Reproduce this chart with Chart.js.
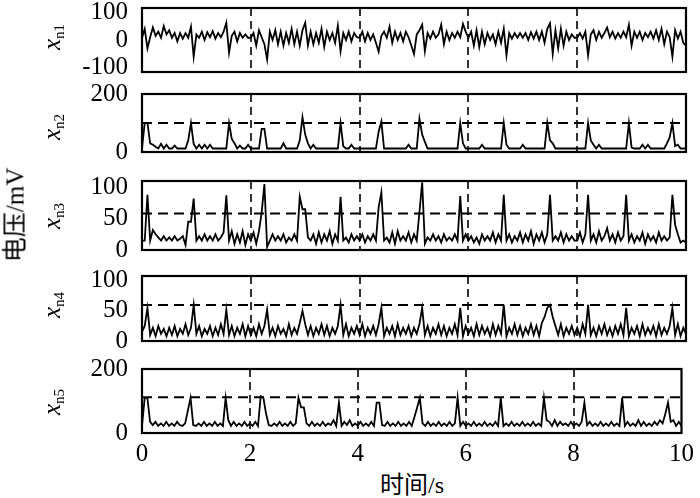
<!DOCTYPE html>
<html><head><meta charset="utf-8">
<script src="https://cdn.jsdelivr.net/npm/chart.js@4.4.0/dist/chart.umd.min.js"></script>
<style>
html,body{margin:0;padding:0;background:#fff;}
#wrap{position:relative;width:700px;height:498px;overflow:hidden;background:#fff;}
canvas{position:absolute;left:0;}
.lbl{position:absolute;font-family:"Liberation Serif","Times New Roman",serif;color:#000;white-space:nowrap;transform:translate(-50%,-50%) rotate(-90deg);line-height:1;}
.lbl i{font-size:25px;}
.lbl sub{font-size:15px;}
.title{position:absolute;font-family:"Liberation Serif","Noto Sans CJK SC",serif;color:#000;white-space:nowrap;line-height:1;}
</style>
</head><body>
<div id="wrap">
<canvas id="c1" width="700" height="104" style="top:-12px"></canvas>
<canvas id="c2" width="700" height="98" style="top:74px"></canvas>
<canvas id="c3" width="700" height="109" style="top:161px"></canvas>
<canvas id="c4" width="700" height="105" style="top:256px"></canvas>
<canvas id="c5" width="700" height="119" style="top:349px"></canvas>
<div class="lbl" style="left:53px;top:37px"><i>x</i><sub>n1</sub></div>
<div class="lbl" style="left:53px;top:127px"><i>x</i><sub>n2</sub></div>
<div class="lbl" style="left:53px;top:216px"><i>x</i><sub>n3</sub></div>
<div class="lbl" style="left:53px;top:305px"><i>x</i><sub>n4</sub></div>
<div class="lbl" style="left:53px;top:402px"><i>x</i><sub>n5</sub></div>
<div class="title" style="left:15px;top:215px;font-size:25px;transform:translate(-50%,-50%) rotate(-90deg);">电压/mV</div>
<div class="title" style="left:412px;top:485px;font-size:24px;transform:translate(-50%,-50%);">时间/s</div>
</div>
<script>
// sample times (s): 0 .. 10, 201 samples
const times = Array.from({length: 201}, (_, i) => +(i * 0.05).toFixed(2));
const xTicks = [0, 2, 4, 6, 8, 10];
const gridTimes = [2, 4, 6, 8];

const xn1 = [
 8, 40, -30, 10, 45, 15, 30, 8, 50, 20, 35, 8, 25, -5, 25, 5, 25, 8, 48, -60,
 20, 8, 30, 0, 28, 10, 32, 5, 25, 10, 30, 62, -45, 15, 30, -5, 25, 8, 20, 8,
 8, 25, -20, 35, 10, -15, -70, 30, 0, 35, -15, 30, -20, 25, -10, 40, -15, 30, -20, 35,
 62, -20, 30, -15, 25, -10, 40, -25, 30, 0, 25, -10, 52, -40, 25, 0, 30, -5, 25, 10,
 8, 30, -5, 25, 0, 20, -10, -42, 15, 30, 8, 48, -10, 30, 0, 25, -5, 30, 10, -20,
 -50, 20, 35, 55, -40, 25, 5, 30, 8, 20, 55, -15, 30, 0, 25, 8, 30, 10, 58, 30,
 8, 30, -20, 35, -25, 30, -15, 25, 0, 20, -15, 30, -10, 40, -55, 25, 5, 25, 8, 25,
 8, 25, 0, 28, 5, 30, 0, 30, -10, 40, 60, -50, 35, -30, 40, -20, 30, 0, 20, 8,
 8, 25, 5, 30, -55, 20, 35, 0, 30, 8, 25, 45, 10, 30, 5, 25, 8, 30, 10, 55,
 -20, 30, 8, 30, 0, 25, 10, 30, 5, 35, 0, 40, -15, 30, 10, -60, 35, 5, 30, -10, -20
];
const xn2 = [
 12, 100, 100, 30, 25, 18, 12, 28, 12, 25, 12, 12, 22, 12, 12, 12, 12, 40, 100, 28,
 12, 25, 12, 25, 12, 25, 12, 12, 12, 12, 12, 12, 100, 45, 30, 12, 22, 12, 12, 25,
 12, 12, 12, 12, 80, 80, 12, 12, 12, 12, 12, 12, 30, 12, 12, 12, 12, 12, 40, 120,
 60, 30, 12, 25, 12, 12, 12, 12, 12, 12, 12, 12, 12, 100, 20, 12, 12, 25, 12, 12,
 12, 12, 12, 12, 12, 12, 12, 70, 105, 12, 12, 12, 12, 12, 12, 12, 12, 12, 25, 12,
 12, 12, 115, 60, 35, 12, 12, 12, 12, 12, 12, 12, 12, 12, 12, 12, 12, 100, 30, 12,
 12, 12, 12, 12, 12, 25, 12, 12, 12, 12, 12, 12, 12, 100, 25, 12, 12, 12, 12, 12,
 25, 12, 12, 12, 12, 12, 12, 12, 12, 100, 40, 30, 12, 12, 12, 12, 12, 12, 12, 12,
 12, 12, 12, 12, 100, 40, 25, 12, 25, 12, 12, 12, 12, 12, 12, 12, 12, 12, 12, 100,
 15, 12, 12, 12, 25, 12, 25, 12, 12, 12, 12, 12, 12, 30, 50, 100, 20, 25, 12, 12, 12
];
const xn3 = [
 15, 15, 88, 15, 32, 25, 20, 15, 22, 15, 20, 15, 22, 15, 18, 22, 8, 45, 45, 82,
 15, 22, 15, 25, 15, 22, 15, 25, 15, 20, 28, 87, 15, 30, 10, 25, 12, 30, 8, 25,
 15, 28, 10, 30, 60, 105, 5, 15, 25, 15, 22, 15, 25, 12, 20, 15, 25, 15, 85, 65,
 65, 20, 15, 25, 10, 28, 12, 25, 15, 30, 10, 25, 15, 85, 15, 20, 12, 25, 15, 22,
 15, 25, 12, 22, 15, 25, 15, 68, 92, 15, 20, 12, 28, 10, 30, 15, 22, 15, 28, 12,
 25, 15, 60, 108, 10, 20, 15, 25, 15, 22, 12, 25, 15, 20, 15, 25, 15, 86, 15, 25,
 15, 22, 12, 20, 10, 25, 15, 22, 15, 28, 12, 25, 15, 88, 15, 25, 12, 22, 15, 28,
 12, 25, 15, 30, 10, 25, 15, 28, 12, 25, 88, 15, 22, 15, 28, 12, 25, 15, 22, 15,
 15, 28, 12, 25, 88, 15, 25, 12, 30, 15, 22, 35, 15, 25, 12, 28, 15, 22, 88, 15,
 25, 12, 22, 15, 28, 10, 25, 15, 22, 12, 28, 15, 22, 15, 20, 88, 40, 25, 12, 15, 12
];
const xn4 = [
 15, 25, 55, 10, 22, 8, 25, 12, 20, 8, 22, 10, 25, 8, 20, 12, 28, 10, 22, 60,
 12, 25, 8, 20, 12, 25, 8, 22, 10, 28, 12, 52, 10, 25, 8, 22, 12, 28, 8, 25,
 10, 22, 8, 28, 12, 25, 52, 10, 22, 8, 25, 12, 20, 8, 28, 10, 22, 12, 30, 50,
 28, 10, 25, 8, 22, 12, 28, 10, 25, 8, 22, 12, 25, 60, 10, 28, 8, 22, 12, 25,
 10, 28, 8, 22, 12, 25, 10, 28, 55, 8, 22, 12, 25, 8, 28, 10, 22, 12, 25, 8,
 22, 12, 28, 55, 10, 25, 8, 22, 12, 28, 10, 25, 8, 22, 12, 28, 10, 55, 8, 25,
 12, 22, 8, 28, 10, 25, 12, 22, 8, 28, 10, 25, 12, 60, 8, 22, 12, 28, 10, 25,
 8, 22, 12, 28, 10, 25, 8, 30, 40, 55, 60, 40, 25, 10, 28, 8, 22, 12, 25, 10,
 22, 8, 28, 12, 60, 10, 22, 8, 25, 12, 28, 10, 22, 8, 25, 12, 28, 10, 55, 8,
 22, 12, 25, 8, 28, 10, 22, 12, 25, 8, 28, 10, 22, 12, 25, 55, 10, 28, 8, 22, 12
];
const xn5 = [
 22, 110, 110, 35, 25, 35, 22, 30, 22, 35, 22, 30, 22, 35, 25, 22, 30, 70, 110, 25,
 22, 30, 22, 35, 22, 30, 22, 35, 22, 30, 22, 110, 40, 22, 35, 22, 30, 22, 35, 22,
 30, 22, 35, 22, 115, 110, 60, 25, 22, 30, 22, 35, 22, 30, 22, 35, 22, 30, 110, 80,
 80, 30, 22, 35, 22, 30, 22, 35, 22, 30, 25, 40, 22, 95, 22, 35, 25, 40, 22, 30,
 22, 35, 22, 30, 22, 35, 22, 95, 95, 25, 22, 35, 22, 30, 22, 35, 22, 30, 22, 35,
 22, 50, 80, 110, 30, 22, 35, 22, 30, 22, 35, 22, 30, 22, 35, 22, 30, 110, 22, 35,
 22, 30, 22, 35, 22, 30, 22, 35, 22, 30, 22, 35, 22, 110, 22, 30, 22, 35, 22, 30,
 22, 35, 22, 30, 22, 35, 22, 30, 22, 110, 40, 35, 22, 40, 22, 35, 25, 30, 22, 35,
 22, 30, 22, 35, 95, 25, 35, 22, 30, 22, 35, 22, 30, 22, 35, 22, 30, 22, 110, 22,
 35, 22, 30, 22, 40, 22, 35, 22, 30, 22, 35, 25, 40, 30, 60, 95, 35, 40, 22, 35, 22
];

const yTicks1 = [-100, 0, 100];
const yTicks2 = [0, 100, 200];
const yTicks3 = [0, 50, 100];
const yTicks4 = [0, 50, 100];
const yTicks5 = [0, 100, 200];
const yRanges = [[-115, 115], [0, 200], [0, 110], [0, 108], [0, 200]];
const thresholds = [null, 100, 58, 60, 112];

const framePlugin = {
  id: 'frame',
  beforeDatasetsDraw(chart) {
    const {ctx, chartArea: a, scales: {x}} = chart;
    ctx.save();
    ctx.strokeStyle = '#000';
    ctx.lineWidth = 1.6;
    ctx.setLineDash([8, 5]);
    gridTimes.forEach(t => {
      const px = Math.round(x.getPixelForValue(t));
      ctx.beginPath();
      ctx.moveTo(px, a.top);
      ctx.lineTo(px, a.bottom);
      ctx.stroke();
    });
    ctx.restore();
  },
  afterDraw(chart) {
    const {ctx, chartArea: a} = chart;
    ctx.save();
    ctx.strokeStyle = '#000';
    ctx.lineWidth = 2.2;
    ctx.setLineDash([]);
    ctx.strokeRect(a.left, a.top, a.right - a.left, a.bottom - a.top);
    ctx.restore();
  }
};

function makePanel(id, vals, range, yTicks, thr, showX) {
  const datasets = [{
    data: vals.map((v, i) => ({x: times[i], y: v})),
    borderColor: '#000', borderWidth: 1.8, pointRadius: 0, tension: 0, fill: false
  }];
  if (thr !== null) {
    datasets.push({
      data: [{x: 0, y: thr}, {x: 10, y: thr}],
      borderColor: '#000', borderWidth: 2, borderDash: [10, 6], pointRadius: 0, fill: false
    });
  }
  const tickFont = {family: '"Liberation Serif", "Times New Roman", serif', size: 25};
  return new Chart(document.getElementById(id), {
    type: 'line',
    data: {datasets},
    options: {
      responsive: false, animation: false, devicePixelRatio: 1, events: [],
      layout: {padding: {top: 0, bottom: 0, left: 0, right: 14}},
      plugins: {legend: {display: false}, tooltip: {enabled: false}, title: {display: false}},
      scales: {
        x: showX ? {
          type: 'linear', min: 0, max: 10,
          afterBuildTicks: s => { s.ticks = xTicks.map(v => ({value: v})); },
          afterFit: s => { s.height = 35; },
          grid: {display: false, drawTicks: false},
          border: {display: false},
          ticks: {color: '#000', font: tickFont, padding: 6, maxRotation: 0}
        } : {type: 'linear', min: 0, max: 10, display: false},
        y: {
          type: 'linear', min: range[0], max: range[1],
          afterBuildTicks: s => { s.ticks = yTicks.map(v => ({value: v})); },
          afterFit: s => { s.width = 142; s.paddingTop = 20; s.paddingBottom = showX ? 0 : 20; },
          grid: {display: false, drawTicks: false},
          border: {display: false},
          ticks: {color: '#000', font: tickFont, padding: 14}
        }
      }
    },
    plugins: [framePlugin]
  });
}

makePanel('c1', xn1, yRanges[0], yTicks1, thresholds[0], false);
makePanel('c2', xn2, yRanges[1], yTicks2, thresholds[1], false);
makePanel('c3', xn3, yRanges[2], yTicks3, thresholds[2], false);
makePanel('c4', xn4, yRanges[3], yTicks4, thresholds[3], false);
makePanel('c5', xn5, yRanges[4], yTicks5, thresholds[4], true);
</script>
</body></html>
